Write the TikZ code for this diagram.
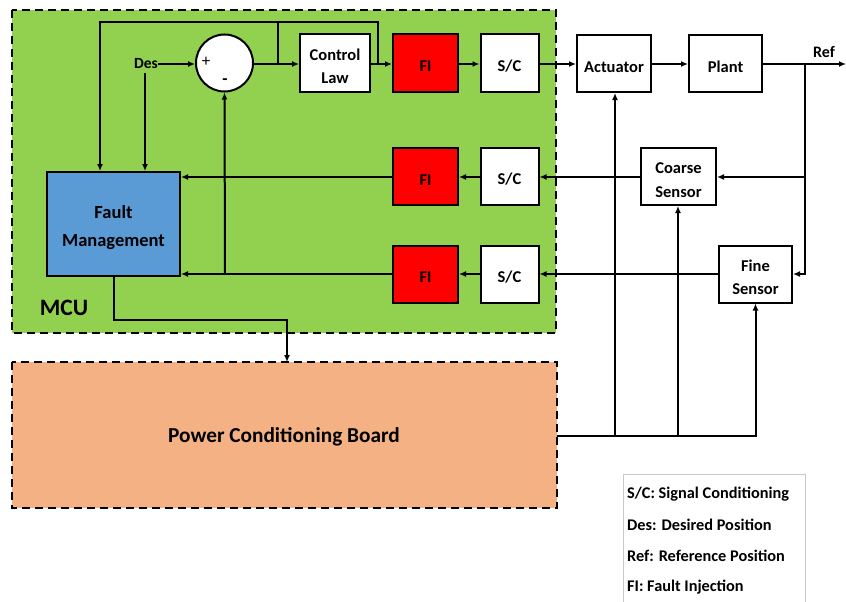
\documentclass[tikz,border=0pt]{standalone}
\usepackage{fontspec}
\setmainfont{Carlito}
\usetikzlibrary{arrows.meta}
\definecolor{mcugreen}{HTML}{92D050}
\definecolor{firred}{HTML}{FF0000}
\definecolor{fmblue}{HTML}{5B9BD5}
\definecolor{pcborange}{HTML}{F4B183}
\definecolor{legendgray}{HTML}{C8C8C8}
\newcommand{\topstrut}[1]{\rule{0pt}{#1}}
\tikzset{
  wire/.style={line width=2pt},
  arr/.style={wire,-{Latex[length=7pt,width=6pt]}},
  blk/.style={draw, line width=2pt, fill=white, minimum width=#1, minimum height=57pt,
    inner sep=0pt, align=center, font=\bfseries\fontsize{16.5}{23.5}\selectfont},
  oneline/.style={blk=#1, execute at begin node={\topstrut{17.5pt}}},
  fiblk/.style={oneline=65pt, fill=firred},
  scblk/.style={oneline=58pt},
  region/.style={draw, line width=2.2pt, dash pattern=on 8pt off 5pt},
  lbl/.style={inner sep=0pt, font=\bfseries\fontsize{15.5}{18}\selectfont},
  legtext/.style={inner sep=0pt, anchor=west, font=\bfseries\fontsize{16.3}{19}\selectfont}
}
\begin{document}
\begin{tikzpicture}[x=1pt,y=-1pt]
\useasboundingbox (0,0) rectangle (846,602);

% enclosures
\draw[region, fill=mcugreen] (12,10) rectangle (556,333);
\draw[region, fill=pcborange] (12,362) rectangle (557,508);
\node[inner sep=0pt, font=\bfseries\fontsize{23.5}{28}\selectfont] (mcu) at (64,308) {MCU};
\node[inner sep=0pt, font=\bfseries\fontsize{21.3}{25}\selectfont] (pcb) at (284,437) {Power Conditioning Board};

% legend
\draw[legendgray, line width=0.8pt] (623,610) -- (623,474) -- (805,474) -- (805,610);
\node[legtext] (leg1) at (627,494) {S/C: Signal Conditioning};
\node[legtext] (leg2) at (627,525) {Des: Desired Position};
\node[legtext] (leg3) at (627,556) {Ref: Reference Position};
\node[legtext] (leg4) at (627,587) {FI: Fault Injection};

% forward path
\node[lbl] (des) at (146,64) {Des};
\node[draw, circle, line width=2pt, fill=white, minimum size=57pt, inner sep=0pt] (sum) at (224.5,63) {};
\node[inner sep=0pt, font=\fontsize{17}{18}\selectfont] (plus) at (206,62) {+};
\node[inner sep=0pt, font=\bfseries\fontsize{17}{18}\selectfont] (minus) at (225,82) {-};
\node[blk=70pt] (ctrl) at (335,63) {\topstrut{18pt}Control\\Law};
\node[fiblk] (fi1) at (425.5,63) {FI};
\node[scblk] (sc1) at (509.5,63) {S/C};
\node[oneline=74pt] (act) at (614,63.5) {Actuator};
\node[oneline=73pt] (plant) at (725.5,63.5) {Plant};
\node[lbl, font=\bfseries\fontsize{16}{18}\selectfont] (ref) at (824,52) {Ref};
\coordinate (refend) at (846,64);

% feedback paths
\node[blk=75pt] (coarse) at (678.5,176.5) {\topstrut{18pt}Coarse\\Sensor};
\node[blk=73pt] (fine) at (755.5,274) {\topstrut{18pt}Fine\\Sensor};
\node[scblk] (sc2) at (509.5,176.5) {S/C};
\node[scblk] (sc3) at (509.5,274) {S/C};
\node[fiblk] (fi2) at (425.5,176.5) {FI};
\node[fiblk] (fi3) at (425.5,274) {FI};
\node[blk=133pt, fill=fmblue, minimum height=104pt,
  font=\bfseries\fontsize{18.5}{27.5}\selectfont] (fm) at (113.5,224) {\topstrut{20pt}Fault\\Management};

% junction points and free ends
\coordinate (jsum) at (278,64);
\coordinate (jctrl) at (378,64);
\coordinate (jref) at (805,64);
\coordinate (jcoarse) at (805,177);
\coordinate (jfb) at (225,274);
\coordinate (jpwr) at (615,436);
\coordinate (jcs) at (678,436);
\coordinate (desdrop) at (145,73);
\coordinate (fmtopl) at (100,171);
\coordinate (fmtopr) at (145,171);
\coordinate (pwrin) at (287,362);
\coordinate (pcbout) at (557,436);

% forward connections
\draw[arr] (des.east) -- (sum.west |- des.east);
\draw[arr] (desdrop) -- (fmtopr);
\draw[arr] (sum.east |- jsum) -- (ctrl.west |- jsum);
\draw[arr] (ctrl.east |- jctrl) -- (fi1.west |- jctrl);
\draw[arr] (fi1.east |- jctrl) -- (sc1.west |- jctrl);
\draw[arr] (sc1.east |- jctrl) -- (act.west |- jctrl);
\draw[arr] (act.east |- jref) -- (plant.west |- jref);
\draw[arr] (plant.east |- jref) -- (refend);
\draw[wire] (jsum) -- (278,22);
\draw[arr] (jctrl) |- (100,22) -- (fmtopl);

% sensor branches
\draw[arr] (jref) |- (fine.east);
\draw[arr] (jcoarse) -- (coarse.east |- jcoarse);
\draw[arr] (coarse.west |- jcoarse) -- (sc2.east |- jcoarse);
\draw[arr] (sc2.west |- jcoarse) -- (fi2.east |- jcoarse);
\draw[arr] (fi2.west |- jcoarse) -- (fm.east |- jcoarse);
\draw[arr] (fine.west) -- (sc3.east);
\draw[arr] (sc3.west) -- (fi3.east);
\draw[arr] (fi3.west) -- (fi3.west -| fm.east);
\draw[arr] (jfb) -- (sum.south);

% fault management to power board
\draw[arr] (fm.south) |- (287,320) -- (pwrin);

% power distribution
\draw[arr] (pcbout) -| (fine.south);
\draw[arr] (jpwr) -- (act.south -| jpwr);
\draw[arr] (jcs) -- (coarse.south -| jcs);
\end{tikzpicture}
\end{document}
